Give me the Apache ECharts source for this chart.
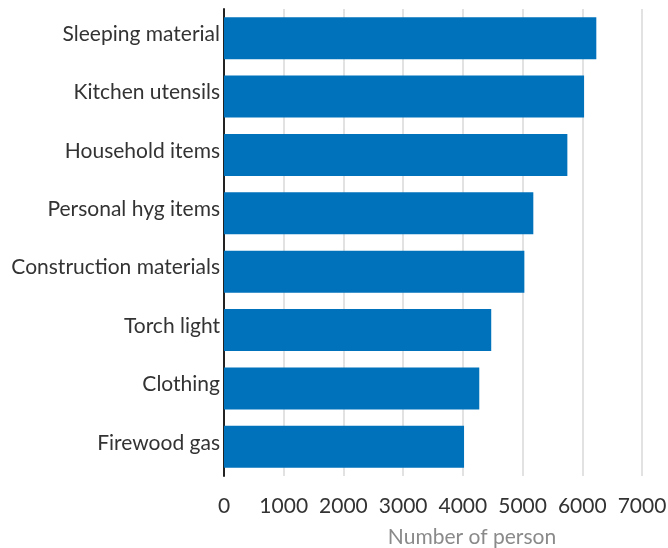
<!DOCTYPE html>
<html><head><meta charset="utf-8">
<script src="https://cdn.jsdelivr.net/npm/echarts@6/dist/echarts.min.js"></script>
<style>html,body{margin:0;padding:0;background:#fff}#c{width:668px;height:548px}</style>
</head><body><div id="c"></div>
<script>
const categories = ["Sleeping material","Kitchen utensils","Household items","Personal hyg items","Construction materials","Torch light","Clothing","Firewood gas"];
const values = [6235, 6030, 5750, 5180, 5030, 4475, 4275, 4020];
const xTicks = [0,1000,2000,3000,4000,5000,6000,7000];
const chart = echarts.init(document.getElementById('c'), null, {renderer:'canvas'});
chart.setOption({
  animation:false,
  textStyle:{fontFamily:'Lato'},
  grid:{left:224,right:26,top:9,bottom:72,containLabel:false,outerBoundsMode:'none'},
  xAxis:{
    type:'value',min:xTicks[0],max:xTicks[xTicks.length-1],interval:1000,
    name:'Number of person',nameLocation:'middle',nameGap:51,
    nameTextStyle:{color:'#8a8a8a',fontSize:21,fontFamily:'Lato',padding:[0,0,0,78]},
    axisLine:{show:false},axisTick:{show:false},
    axisLabel:{color:'#333',fontSize:21,margin:20,fontFamily:'Lato',formatter:function(v){return String(v);}},
    splitLine:{show:true,lineStyle:{color:'#d9d9d9',width:1.5}}
  },
  yAxis:{
    type:'category',data:categories,inverse:true,
    axisLine:{show:true,lineStyle:{color:'#222',width:2}},
    axisTick:{show:false},
    axisLabel:{color:'#333',fontSize:21,margin:4,fontFamily:'Lato',
      formatter:function(v){return '{a|'+v+'}';},
      rich:{a:{color:'#333',fontSize:21,fontFamily:'Lato',padding:[0,0,8,0]}}}
  },
  series:[{type:'bar',data:values,barCategoryGap:'28%',itemStyle:{color:'#0072BC'}}]
});
</script></body></html>
